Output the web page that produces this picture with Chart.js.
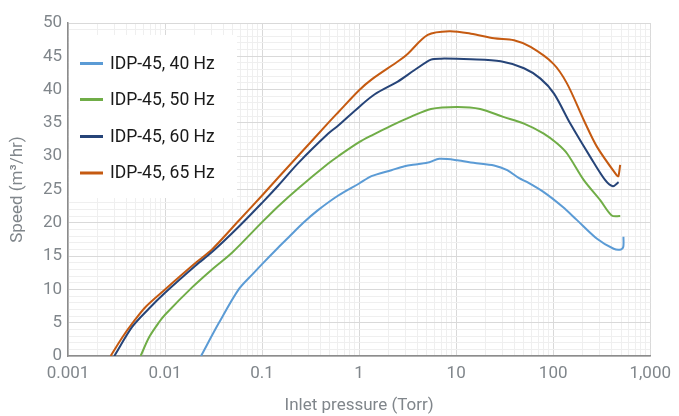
<!DOCTYPE html>
<html>
<head>
<meta charset="utf-8">
<script src="https://cdn.jsdelivr.net/npm/chart.js@4"></script>
<style>
html,body{margin:0;padding:0;background:#fff;}
#wrap{width:679px;height:416px;position:relative;}
</style>
</head>
<body>
<div id="wrap"><canvas id="c" width="679" height="416"></canvas></div>
<script>
const seriesLabels = ['IDP-45, 40 Hz', 'IDP-45, 50 Hz', 'IDP-45, 60 Hz', 'IDP-45, 65 Hz'];
const seriesColors = ['#5B9BD5', '#70AD47', '#264478', '#C55A11'];

const p40 = [0.0235,0.0357,0.0574,0.08,0.1,0.147,0.187,0.266,0.377,0.61,1.0,1.34,2.15,2.94,4.0,5.3,6.7,10.3,15.1,24.6,33.6,44.6,54.1,80,125,176,283,420,500,528,530];
const s40 = [0,4.9,10.0,12.3,13.8,16.3,17.8,20.0,21.9,24.1,25.9,27.0,27.9,28.5,28.8,29.1,29.6,29.4,29.0,28.6,27.9,26.7,26.1,24.6,22.4,20.4,17.6,16.1,16.0,16.4,17.9];

const p50 = [0.0056,0.00687,0.0087,0.01,0.019,0.0305,0.049,0.1,0.147,0.237,0.481,0.61,1.0,1.34,2.15,3.4,5.5,10.3,17.7,30.6,50,80,110,139,207,305,401,491];
const s50 = [0,2.85,5.1,6.2,10.3,13.0,15.5,20.1,22.5,25.2,28.9,30.0,32.1,33.1,34.6,35.9,37.1,37.4,37.1,35.9,34.9,33.4,31.9,30.4,26.4,23.4,21.1,21.0];

const p60 = [0.003,0.0046,0.0068,0.01,0.0207,0.0305,0.0574,0.1,0.147,0.237,0.481,0.61,1.0,1.45,2.5,3.7,5.5,7.0,14.2,28.8,50,74,102,150,241,344,412,472];
const s60 = [0,4.4,7.1,9.5,13.6,15.6,19.4,23.0,25.6,29.0,33.4,34.6,37.4,39.3,41.2,42.9,44.5,44.65,44.55,44.25,43.2,41.65,39.4,34.9,29.9,26.4,25.5,26.1];

const p65 = [0.00275,0.00365,0.0046,0.00633,0.01,0.0207,0.0305,0.0574,0.1,0.147,0.237,0.481,0.61,1.0,1.34,2.61,3.18,5.1,8.5,14.2,24.6,39.5,58.5,100,139,207,283,453,470,490];
const s65 = [0,2.85,4.9,7.4,10.0,14.0,16.0,20.3,24.1,26.8,30.1,35.0,36.6,39.9,41.5,44.4,45.4,48.2,48.75,48.4,47.7,47.4,46.4,43.9,40.9,35.4,31.4,27.1,27.0,28.7];

const xTickLabels = {0.001:'0.001',0.01:'0.01',0.1:'0.1',1:'1',10:'10',100:'100',1000:'1,000'};

const pressures = [p40, p50, p60, p65];
const speeds = [s40, s50, s60, s65];

function isDecade(v){
  const l = Math.log10(v);
  return Math.abs(l - Math.round(l)) < 1e-6;
}

const datasets = seriesLabels.map((lab, i) => ({
  label: lab,
  data: pressures[i].map((x, j) => ({x: x, y: speeds[i][j]})),
  borderColor: seriesColors[i],
  backgroundColor: seriesColors[i],
  borderWidth: 2,
  pointRadius: 0,
  tension: 0.3,
  fill: false,
  showLine: true
}));

const FONT = 'Roboto';
const GRAY = '#80868b';

const legendPlugin = {
  id: 'boxLegend',
  afterDatasetsDraw(chart) {
    const ctx = chart.ctx;
    const area = chart.chartArea;
    ctx.save();
    ctx.fillStyle = '#ffffff';
    ctx.fillRect(area.left + 1, 35, 168, 163);
    const ys = [63.5, 99.5, 136.5, 173];
    chart.data.datasets.forEach((ds, i) => {
      ctx.strokeStyle = ds.borderColor;
      ctx.lineWidth = 3;
      ctx.beginPath();
      ctx.moveTo(80, ys[i]);
      ctx.lineTo(103, ys[i]);
      ctx.stroke();
      ctx.fillStyle = '#1a1a1a';
      ctx.font = '17.5px ' + FONT;
      ctx.textBaseline = 'middle';
      ctx.textAlign = 'left';
      ctx.fillText(ds.label, 110, ys[i] + 1);
    });
    ctx.restore();
  }
};

new Chart(document.getElementById('c'), {
  type: 'scatter',
  data: { datasets: datasets },
  plugins: [legendPlugin],
  options: {
    responsive: false,
    animation: false,
    layout: { padding: { top: 23, right: 26, left: 0, bottom: 0 } },
    plugins: { legend: { display: false }, tooltip: { enabled: false } },
    scales: {
      x: {
        type: 'logarithmic',
        min: 0.001,
        max: 1000,
        afterFit(scale) { scale.height = 60; },
        afterBuildTicks(scale) {
          const t = [];
          for (let e = -3; e <= 2; e++) {
            for (let m = 1; m <= 9; m++) {
              t.push({ value: m * Math.pow(10, e) });
            }
          }
          t.push({ value: 1000 });
          scale.ticks = t;
        },
        border: { display: true, color: '#8c8c8c', width: 1.5 },
        grid: {
          drawTicks: false,
          color: (c) => (c.tick && isDecade(c.tick.value)) ? '#d9d9d9' : '#efefef',
          lineWidth: 1
        },
        ticks: {
          autoSkip: false,
          maxRotation: 0,
          padding: 8,
          color: GRAY,
          font: { family: FONT, size: 17 },
          callback: (v) => {
            for (const k in xTickLabels) { if (Math.abs(Number(k) - v) / v < 1e-6) return xTickLabels[k]; }
            return '';
          }
        },
        title: {
          display: true,
          text: 'Inlet pressure (Torr)',
          color: GRAY,
          font: { family: FONT, size: 17 },
          padding: { top: 0, bottom: 0 }
        }
      },
      y: {
        min: 0,
        max: 50,
        afterFit(scale) { scale.width = 68; },
        border: { display: true, color: '#8c8c8c', width: 1.5 },
        grid: {
          drawTicks: false,
          color: (c) => (c.tick && c.tick.value % 5 === 0) ? '#d9d9d9' : '#efefef',
          lineWidth: 1
        },
        ticks: {
          stepSize: 1,
          autoSkip: false,
          padding: 6,
          color: GRAY,
          font: { family: FONT, size: 17 },
          callback: (v) => (v % 5 === 0 ? String(v) : '')
        },
        title: {
          display: true,
          text: 'Speed (m\u00B3/hr)',
          color: GRAY,
          font: { family: FONT, size: 17 },
          padding: { top: 8, bottom: 0 }
        }
      }
    }
  }
});
</script>
</body>
</html>
